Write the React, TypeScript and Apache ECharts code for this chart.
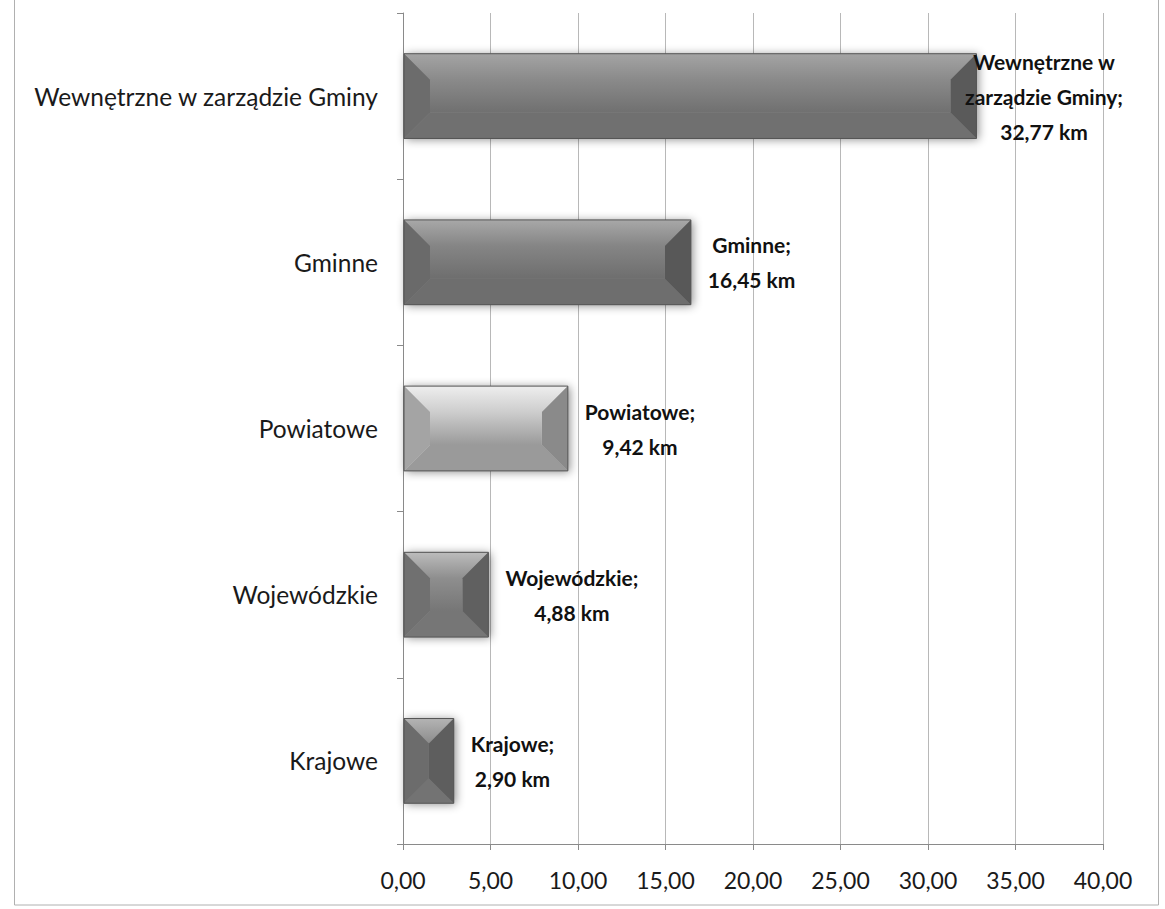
import React, { useEffect, useRef } from "react";
import * as echarts from "echarts";

const categories = ["Krajowe", "Wojewódzkie", "Powiatowe", "Gminne", "Wewnętrzne w zarządzie Gminy"];
const lengthsKm = [2.9, 4.88, 9.42, 16.45, 32.77];
const labelNames = ["Krajowe;", "Wojewódzkie;", "Powiatowe;", "Gminne;", "Wewnętrzne w\nzarządzie Gminy;"];
const xTicks = [0, 5, 10, 15, 20, 25, 30, 35, 40];

// per-bar shading (style only)
const tones = [
  { top: "#b4b4b4", main: "#8c8c8c", side: "#6c6c6c", right: "#5e5e5e", bottom: "#737373" },
  { top: "#bcbcbc", main: "#8e8e8e", side: "#707070", right: "#606060", bottom: "#767676" },
  { top: "#eeeeee", main: "#cdcdcd", side: "#a4a4a4", right: "#8a8a8a", bottom: "#9a9a9a" },
  { top: "#a8a8a8", main: "#858585", side: "#6a6a6a", right: "#585858", bottom: "#6e6e6e" },
  { top: "#a4a4a4", main: "#8a8a8a", side: "#6c6c6c", right: "#5a5a5a", bottom: "#707070" },
];

const fmt = (v: number) => v.toFixed(2).replace(".", ",");
const FONT = 'Lato, "Open Sans", sans-serif';

let measureCtx: CanvasRenderingContext2D | null = null;
function measure(text: string, font: string) {
  if (!measureCtx) measureCtx = document.createElement("canvas").getContext("2d");
  measureCtx!.font = font;
  return Math.max(...text.split("\n").map((l) => measureCtx!.measureText(l).width));
}

export default function App() {
  const ref = useRef<HTMLDivElement>(null);
  useEffect(() => {
    const chart = echarts.init(ref.current!, null, { renderer: "svg" });
    const W = 1165;
    chart.setOption({
      animation: false,
      backgroundColor: "#ffffff",
      grid: { left: 403, right: 62, top: 13, bottom: 65, containLabel: false },
      xAxis: {
        type: "value",
        min: 0,
        max: 40,
        interval: 5,
        axisLine: { show: true, lineStyle: { color: "#8a8a8a", width: 1 } },
        axisTick: { show: true, length: 6, lineStyle: { color: "#8a8a8a" } },
        splitLine: { show: true, lineStyle: { color: "#b8b8b8", width: 1 } },
        axisLabel: {
          color: "#1a1a1a",
          fontFamily: FONT,
          fontSize: 23,
          margin: 24,
          formatter: (v: number) => (xTicks.includes(v) ? fmt(v) : ""),
        },
      },
      yAxis: {
        type: "category",
        data: categories,
        axisLine: { show: true, lineStyle: { color: "#8a8a8a", width: 1 } },
        axisTick: { show: true, length: 6, inside: false, lineStyle: { color: "#8a8a8a" } },
        axisLabel: { color: "#1a1a1a", fontFamily: FONT, fontSize: 24.5, margin: 25 },
        splitLine: { show: false },
      },
      graphic: [
        {
          type: "rect",
          shape: { x: 14.5, y: -2, width: 1144, height: 907 },
          style: { fill: "none", stroke: "#b0b0b0", lineWidth: 1 },
          silent: true,
          z: -1,
        },
      ],
      series: [
        {
          type: "custom",
          encode: { x: 0, y: 1 },
          data: lengthsKm.map((v, i) => [v, i]),
          renderItem: (params: any, api: any) => {
            const val = api.value(0);
            const idx = api.value(1);
            const s = api.coord([0, idx]);
            const e = api.coord([val, idx]);
            const bandH = api.size([0, 1])[1];
            const h = bandH * 0.51;
            const x0 = s[0] + 1;
            const x1 = e[0];
            const yc = s[1];
            const y0 = yc - h / 2;
            const y1 = yc + h / 2;
            const w = x1 - x0;
            const d = Math.min(26, w / 2, h / 2);
            const t = tones[idx];
            const labelText = labelNames[idx] + "\n" + fmt(val) + " km";
            const lfont = `bold 21px ${FONT}`;
            const bw = measure(labelText, lfont);
            let cx = x1 + 17 + bw / 2;
            const maxRight = W - 42;
            if (cx + bw / 2 > maxRight) cx = maxRight - bw / 2;
            return {
              type: "group",
              children: [
                {
                  type: "rect",
                  shape: { x: x0, y: y0, width: w, height: h },
                  style: { fill: t.main, shadowBlur: 10, shadowColor: "rgba(0,0,0,0.45)", shadowOffsetX: 2, shadowOffsetY: 1 },
                },
                {
                  type: "polygon",
                  shape: { points: [[x0, y0], [x1, y0], [x1 - d, y0 + d], [x0 + d, y0 + d]] },
                  style: {
                    fill: new echarts.graphic.LinearGradient(0, 0, 0, 1, [
                      { offset: 0, color: t.top },
                      { offset: 1, color: t.main },
                    ]),
                  },
                },
                {
                  type: "polygon",
                  shape: { points: [[x0, y1], [x1, y1], [x1 - d, y1 - d], [x0 + d, y1 - d]] },
                  style: { fill: t.bottom },
                },
                {
                  type: "polygon",
                  shape: { points: [[x0, y0], [x0 + d, y0 + d], [x0 + d, y1 - d], [x0, y1]] },
                  style: { fill: t.side },
                },
                {
                  type: "polygon",
                  shape: { points: [[x1, y0], [x1 - d, y0 + d], [x1 - d, y1 - d], [x1, y1]] },
                  style: { fill: t.right },
                },
                {
                  type: "rect",
                  shape: {
                    x: x0 + d,
                    y: y0 + d,
                    width: Math.max(0, w - 2 * d),
                    height: Math.max(0, h - 2 * d),
                  },
                  style: {
                    fill: new echarts.graphic.LinearGradient(0, 0, 0, 1, [
                      { offset: 0, color: t.main },
                      { offset: 1, color: t.bottom },
                    ]),
                  },
                },
                {
                  type: "rect",
                  shape: { x: x0, y: y0, width: w, height: h },
                  style: { fill: "none", stroke: "#555555", lineWidth: 1 },
                },
                {
                  type: "text",
                  x: cx,
                  y: yc,
                  z2: 10,
                  style: {
                    text: labelText,
                    align: "center",
                    verticalAlign: "middle",
                    font: lfont,
                    lineHeight: 35,
                    fill: "#111111",
                  },
                },
              ],
            };
          },
        },
      ],
    });
    return () => chart.dispose();
  }, []);
  return (
    <div
      ref={ref}
      style={{ position: "fixed", left: 0, top: 0, width: 1165, height: 909, background: "#fff" }}
    />
  );
}
